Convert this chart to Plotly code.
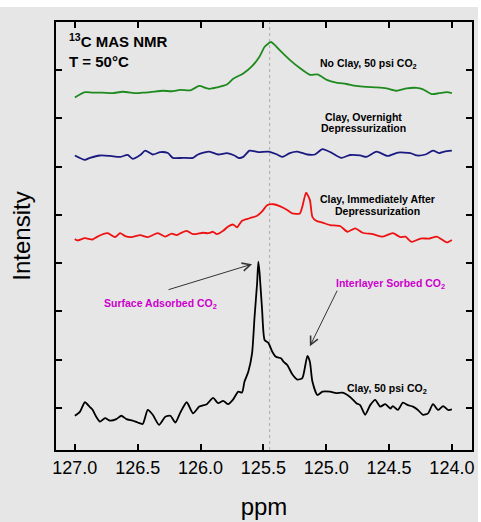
import plotly.graph_objects as go

# ---------------- data ----------------
ppm_noclay = [127.00, 126.92, 126.86, 126.78, 126.70, 126.62, 126.51, 126.46, 126.40, 126.30,
              126.23, 126.16, 126.08, 126.01, 125.96, 125.93, 125.87, 125.79, 125.74, 125.66,
              125.59, 125.53, 125.49, 125.46, 125.44, 125.41, 125.37, 125.29, 125.21, 125.13,
              125.07, 124.99, 124.92, 124.84, 124.76, 124.68, 124.60, 124.52, 124.44, 124.36,
              124.28, 124.23, 124.16, 124.10, 124.04, 124.00]
int_noclay = [7.43, 7.54, 7.53, 7.53, 7.52, 7.55, 7.52, 7.53, 7.54, 7.57,
              7.56, 7.59, 7.58, 7.67, 7.63, 7.61, 7.64, 7.70, 7.82, 7.93,
              8.08, 8.28, 8.48, 8.55, 8.58, 8.52, 8.41, 8.21, 8.04, 7.90,
              7.91, 7.79, 7.74, 7.71, 7.67, 7.65, 7.64, 7.62, 7.57, 7.62,
              7.63, 7.60, 7.50, 7.52, 7.54, 7.52]

ppm_overnight = [127.00, 126.92, 126.88, 126.80, 126.72, 126.64, 126.58, 126.54, 126.48, 126.44,
                 126.38, 126.32, 126.26, 126.22, 126.14, 126.06, 126.02, 125.93, 125.86, 125.79,
                 125.73, 125.70, 125.66, 125.61, 125.54, 125.46, 125.40, 125.35, 125.29, 125.23,
                 125.15, 125.09, 125.03, 124.96, 124.88, 124.81, 124.73, 124.68, 124.60, 124.51,
                 124.43, 124.33, 124.28, 124.21, 124.15, 124.10, 124.06, 124.00]
int_overnight = [6.23, 6.14, 6.18, 6.23, 6.22, 6.20, 6.24, 6.16, 6.24, 6.33,
                 6.25, 6.30, 6.28, 6.18, 6.18, 6.18, 6.25, 6.31, 6.25, 6.28,
                 6.23, 6.18, 6.20, 6.33, 6.30, 6.31, 6.26, 6.20, 6.28, 6.31,
                 6.25, 6.25, 6.36, 6.29, 6.18, 6.24, 6.23, 6.20, 6.31, 6.22,
                 6.29, 6.28, 6.23, 6.25, 6.33, 6.28, 6.31, 6.33]

ppm_after = [127.00, 126.98, 126.92, 126.86, 126.82, 126.74, 126.68, 126.64, 126.60, 126.55,
             126.48, 126.42, 126.34, 126.28, 126.23, 126.19, 126.16, 126.11, 126.06, 125.98,
             125.94, 125.90, 125.87, 125.82, 125.78, 125.74, 125.71, 125.67, 125.61, 125.55,
             125.51, 125.47, 125.42, 125.37, 125.31, 125.27, 125.21, 125.19, 125.16, 125.13,
             125.11, 125.08, 125.03, 124.97, 124.89, 124.83, 124.77, 124.71, 124.63, 124.55,
             124.47, 124.41, 124.37, 124.32, 124.25, 124.18, 124.12, 124.08, 124.04, 124.00]
int_after = [4.50, 4.47, 4.52, 4.49, 4.55, 4.62, 4.54, 4.62, 4.56, 4.54,
             4.58, 4.54, 4.62, 4.55, 4.61, 4.58, 4.62, 4.67, 4.60, 4.63,
             4.62, 4.65, 4.60, 4.67, 4.76, 4.80, 4.74, 4.88, 4.93, 4.98,
             5.07, 5.20, 5.22, 5.18, 5.10, 5.03, 5.03, 5.17, 5.46, 5.31,
             4.96, 4.88, 4.84, 4.79, 4.77, 4.65, 4.72, 4.63, 4.60, 4.55,
             4.62, 4.54, 4.55, 4.44, 4.51, 4.51, 4.55, 4.49, 4.43, 4.48]

ppm_clay = [127.00, 126.96, 126.92, 126.88, 126.86, 126.83, 126.80, 126.76, 126.72, 126.67,
            126.63, 126.59, 126.54, 126.50, 126.46, 126.42, 126.38, 126.33, 126.28, 126.24,
            126.20, 126.16, 126.11, 126.06, 126.01, 125.95, 125.90, 125.86, 125.82, 125.78,
            125.74, 125.70, 125.67, 125.65, 125.62, 125.59, 125.57, 125.55, 125.54, 125.53,
            125.51, 125.49, 125.46, 125.43, 125.40, 125.36, 125.34, 125.31, 125.27, 125.23,
            125.19, 125.15, 125.13, 125.11, 125.07, 125.03, 124.97, 124.92, 124.87, 124.81,
            124.76, 124.73, 124.69, 124.65, 124.61, 124.57, 124.53, 124.49, 124.47, 124.43,
            124.39, 124.35, 124.31, 124.27, 124.23, 124.19, 124.15, 124.11, 124.07, 124.03,
            124.00]
int_clay = [0.84, 0.92, 1.12, 1.02, 0.97, 0.82, 0.72, 0.79, 0.74, 0.77,
            0.84, 0.77, 0.74, 0.70, 0.67, 0.96, 0.86, 0.65, 0.82, 0.84,
            0.70, 0.91, 1.12, 0.89, 1.03, 1.08, 1.21, 1.10, 1.15, 1.08,
            1.18, 1.34, 1.32, 1.55, 1.75, 2.13, 2.89, 3.58, 4.03, 3.79,
            3.03, 2.41, 2.35, 2.17, 2.06, 2.03, 1.96, 1.89, 1.70, 1.59,
            1.62, 2.08, 1.96, 1.55, 1.27, 1.34, 1.34, 1.31, 1.32, 1.23,
            1.10, 1.06, 0.86, 1.06, 1.17, 1.03, 1.08, 0.99, 1.04, 0.96,
            1.11, 1.06, 1.03, 0.96, 0.86, 0.89, 1.08, 0.96, 1.04, 0.96,
            0.97]

x_ticks = [127.0, 126.5, 126.0, 125.5, 125.0, 124.5, 124.0]
y_ticks = [1, 2, 3, 4, 5, 6, 7, 8]
ref_line_ppm = 125.45
surface_peak = (125.59, 3.98)
interlayer_peak = (125.13, 2.28)

FONT = "Liberation Sans, Arial, sans-serif"
BG = "#e6e6e6"

fig = go.Figure()
for xs, ys, col in [(ppm_noclay, int_noclay, "#1e8a1e"),
                    (ppm_overnight, int_overnight, "#1a1a80"),
                    (ppm_after, int_after, "#ee1111"),
                    (ppm_clay, int_clay, "#000000")]:
    fig.add_trace(go.Scatter(x=xs, y=ys, mode="lines",
                             line=dict(color=col, width=1.8, shape="spline", smoothing=0.6),
                             showlegend=False, hoverinfo="skip"))

fig.add_shape(type="line", x0=ref_line_ppm, x1=ref_line_ppm, xref="x", yref="paper",
              y0=0, y1=1, line=dict(color="#aaaaaa", width=1, dash="dot"), layer="below")

# thin white borders of the original picture (top and right edges)
fig.add_shape(type="rect", xref="paper", yref="paper", x0=-0.2, x1=1.1, y0=1.035, y1=1.06,
              line=dict(width=0), fillcolor="white", layer="below")
fig.add_shape(type="rect", xref="paper", yref="paper", x0=1.0145, x1=1.1, y0=-0.2, y1=1.06,
              line=dict(width=0), fillcolor="white", layer="below")

def txt(text, x, y, size=11, color="black", xanchor="center"):
    fig.add_annotation(text=text, xref="paper", yref="paper", x=x, y=y,
                       showarrow=False, xanchor=xanchor, yanchor="middle",
                       font=dict(family=FONT, size=size, color=color))

txt("<b><sup>13</sup>C MAS NMR</b>", 0.026, 0.957, size=15, xanchor="left")
txt("<b>T = 50°C</b>", 0.026, 0.907, size=15, xanchor="left")
txt("<b>No Clay, 50 psi CO<sub>2</sub></b>", 0.752, 0.902, size=10.5)
txt("<b>Clay, Overnight</b>", 0.738, 0.778, size=10.5)
txt("<b>Depressurization</b>", 0.738, 0.752, size=10.5)
txt("<b>Clay, Immediately After</b>", 0.774, 0.586, size=10.5)
txt("<b>Depressurization</b>", 0.772, 0.558, size=10.5)
txt("<b>Surface Adsorbed CO<sub>2</sub></b>", 0.252, 0.342, size=10.5, color="#cc00cc")
txt("<b>Interlayer Sorbed CO<sub>2</sub></b>", 0.805, 0.389, size=10.5, color="#cc00cc")
txt("<b>Clay, 50 psi CO<sub>2</sub></b>", 0.796, 0.143, size=10.5)

for (px, py), ax, ay in [(surface_peak, -85, 26), (interlayer_peak, 28, -57)]:
    fig.add_annotation(x=px, y=py, xref="x", yref="y", text="", showarrow=True,
                       ax=ax, ay=ay, axref="pixel", ayref="pixel",
                       arrowhead=5, arrowsize=1.6, arrowwidth=1, arrowcolor="#333333")

axis_common = dict(showline=True, linecolor="black", linewidth=2, mirror="ticks",
                   ticks="inside", ticklen=6, tickwidth=1.5, tickcolor="black",
                   showgrid=False, zeroline=False, automargin=False)

fig.update_layout(
    width=481, height=522,
    margin=dict(l=56, r=9, t=22, b=72),
    paper_bgcolor=BG, plot_bgcolor=BG,
    font=dict(family=FONT, color="black"),
    xaxis=dict(range=[127.15, 123.84], tickvals=x_ticks, tickformat=".1f",
               tickfont=dict(size=18), title=dict(text="ppm", font=dict(size=24), standoff=22),
               **axis_common),
    yaxis=dict(range=[0.131, 8.994], tickvals=y_ticks, showticklabels=False,
               title=dict(text="Intensity", font=dict(size=24), standoff=17),
               **axis_common),
)

fig.write_html("out.html", config={"displayModeBar": False},
               post_script="document.body.style.margin='0';")
